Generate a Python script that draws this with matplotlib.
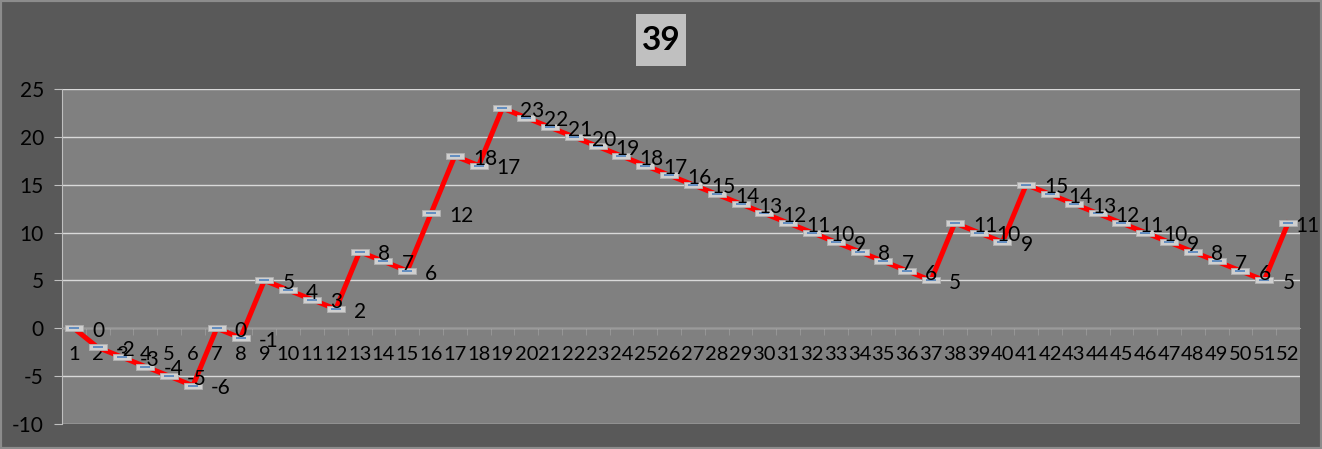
import matplotlib
matplotlib.use("Agg")
from matplotlib import pyplot as plt
from matplotlib.patches import Rectangle

categories = list(range(1, 53))
values = [0, -2, -3, -4, -5, -6, 0, -1, 5, 4, 3, 2, 8, 7, 6, 12, 18, 17, 23, 22,
          21, 20, 19, 18, 17, 16, 15, 14, 13, 12, 11, 10, 9, 8, 7, 6, 5, 11, 10, 9,
          15, 14, 13, 12, 11, 10, 9, 8, 7, 6, 5, 11]
y_ticks = [-10, -5, 0, 5, 10, 15, 20, 25]
title = "39"

plt.rcParams["font.family"] = ["Lato", "DejaVu Sans"]

W, H = 1322, 449
fig = plt.figure(figsize=(W / 100, H / 100), dpi=100, facecolor="#595959")
fig.patches.append(Rectangle((0, 0), 1, 1, transform=fig.transFigure,
                             fill=False, edgecolor="#8c8c8c", linewidth=3))
ax = fig.add_axes([62 / W, 1 - 424 / H, (1300 - 62) / W, (424 - 89) / H])
ax.set_facecolor("#808080")
ax.spines["bottom"].set_position(("data", 0))
ax.spines["bottom"].set_color("#9a9a9a")
ax.spines["left"].set_color("#bfbfbf")
ax.spines["top"].set_visible(False)
ax.spines["right"].set_visible(False)

ax.plot(categories, values, color="#ff0000", linewidth=3.6, zorder=3)
box = [(-1, -0.33), (1, -0.33), (1, 0.33), (-1, 0.33), (-1, -0.33)]
ax.plot(categories, values, linestyle="none", marker=box, markersize=12.5,
        markerfacecolor="#cfcfcf", markeredgecolor="#b0b0b0",
        markeredgewidth=0.6, zorder=4)
ax.plot(categories, values, linestyle="none", marker="_", markersize=7.5,
        markeredgecolor="#4f81bd", markeredgewidth=1.2, zorder=5)

for i, (x, v) in enumerate(zip(categories, values)):
    dx = 5 if i == len(values) - 1 else 13  # last label pulled in to fit
    ax.annotate(str(v), (x, v), xytext=(dx, -2), textcoords="offset points",
                ha="left", va="center", fontsize=15, color="black", zorder=6)

ax.set_xlim(0.5, 52.5)
ax.set_ylim(-10, 25)
ax.set_yticks(y_ticks)
ax.set_yticklabels([str(t) for t in y_ticks])
ax.yaxis.grid(True, color="#d9d9d9", linewidth=1)
ax.set_axisbelow(True)
ax.tick_params(axis="y", length=6, color="#bfbfbf", pad=7,
               labelsize=15, labelcolor="black")

ax.set_xticks(categories)
ax.set_xticklabels([str(c) for c in categories])
ax.set_xticks([c + 0.5 for c in categories[:-1]], minor=True)
ax.tick_params(axis="x", which="major", length=0, pad=13,
               labelsize=14.5, labelcolor="black")
ax.tick_params(axis="x", which="minor", length=5, color="#9a9a9a")

fig.patches.append(Rectangle((636 / W, 1 - 66 / H), 50 / W, 52 / H,
                             transform=fig.transFigure, facecolor="#c0c0c0",
                             edgecolor="none"))
fig.text(661 / W, 1 - 41 / H, title, ha="center", va="center", fontsize=24,
         fontweight="bold", color="black")

fig.savefig("out.png", dpi=100, facecolor=fig.get_facecolor())
